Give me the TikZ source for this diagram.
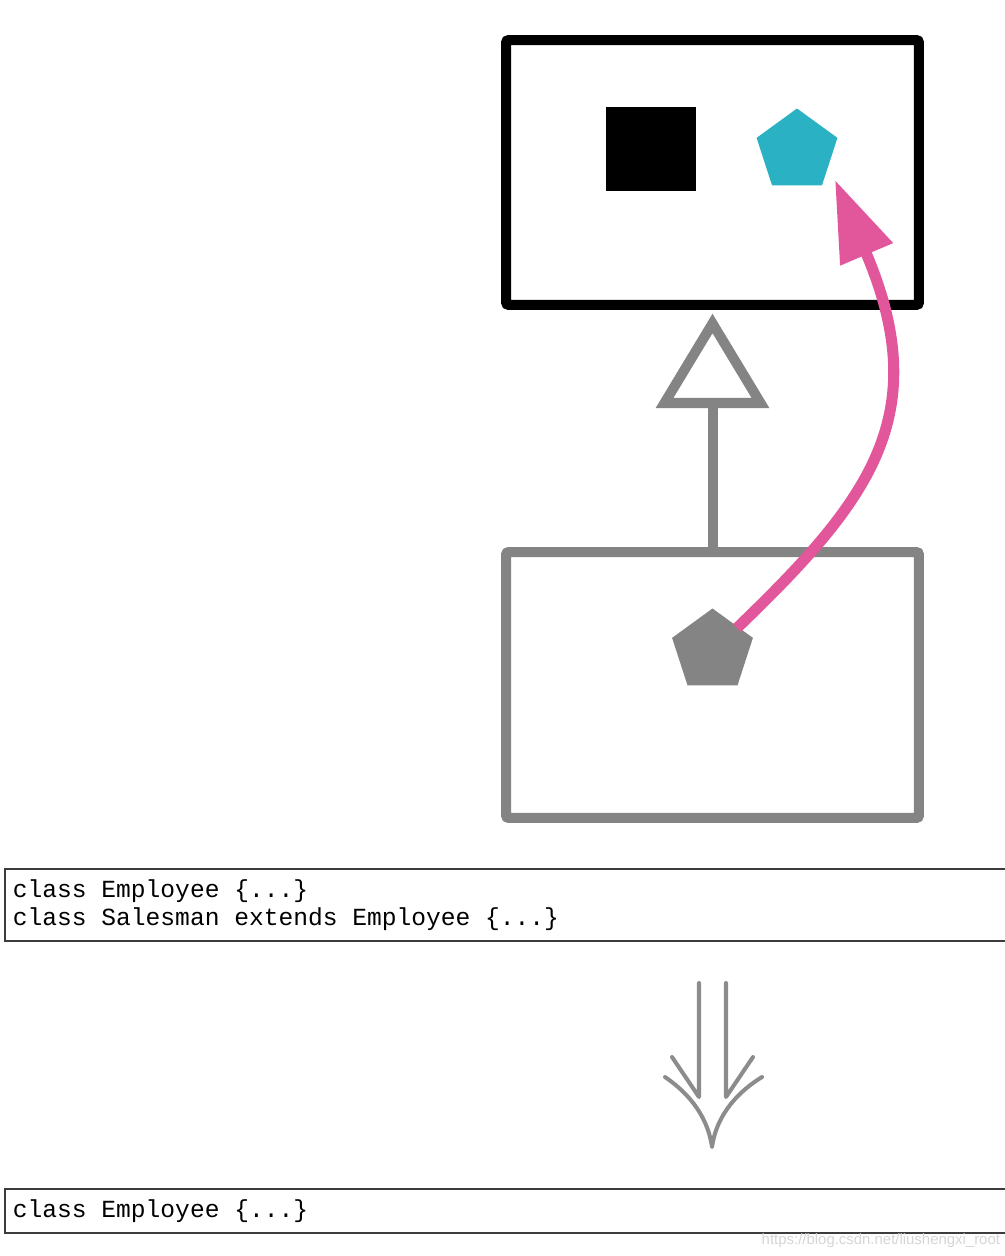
\documentclass[tikz,border=0pt]{standalone}
\usepackage{fontspec}
\usepackage{xcolor}
\usetikzlibrary{arrows.meta,positioning,shapes.geometric}
\newfontfamily\codefont{Liberation Mono}
\newfontfamily\markfont{Liberation Sans}
\newcommand\gap{\hphantom{x}}
\definecolor{Ink}{HTML}{000000}
\definecolor{Slate}{HTML}{848484}
\definecolor{Teal}{HTML}{2BB1C4}
\definecolor{Rose}{HTML}{E2579B}
\definecolor{Frame}{HTML}{3C3C3C}
\definecolor{Faint}{HTML}{8C8C8C}
\definecolor{Mark}{HTML}{D6D6D6}
\begin{document}
\begin{tikzpicture}[x=0.02cm,y=-0.02cm,every node/.style={inner sep=0pt,outer sep=0pt},cls/.style={draw,line width=5.7pt,minimum width=8.26cm,rounded corners=1.5pt},pent/.style={regular polygon,regular polygon sides=5,minimum size=1.7cm},code/.style={draw=Frame,line width=.8pt,anchor=north west,text width=19.78cm,inner xsep=4.5pt,align=left,font=\codefont\fontsize{14}{15.9}\selectfont},link/.style={draw=Rose,line width=6.3pt,-{Triangle[length=46pt,width=31pt]}},inherit/.style={draw=Slate,line width=5.7pt,line join=miter},turn/.style={draw=Faint,line width=2.3pt,line cap=round,line join=round}]
\useasboundingbox (0,0) rectangle (1004,1256);
\fill[white] (0,0) rectangle (1004,1256);
\node[cls,draw=Ink,minimum height=5.3cm] (super) at (712.5,172.5) {};
\node[fill=Ink,minimum width=1.8cm,minimum height=1.68cm] (field) at (651,149) {};
\node[pent,fill=Teal] (method) at (797,151) {};
\node[cls,draw=Slate,minimum height=5.32cm] (sub) at (712.5,685) {};
\node[pent,fill=Slate] (override) at (712.5,651) {};
\coordinate (apex) at (712.5,323.5);
\coordinate (tribase) at (712.5,403);
\draw[inherit,fill=white] (apex) -- (664.5,403) -- (760.5,403) -- cycle;
\draw[inherit] (sub.north) -- (tribase);
\coordinate (from) at (737,628);
\coordinate (to) at (835,180);
\draw[link] (from) .. controls (870,500) and (935,415) .. (to);
\node[code,minimum height=1.44cm] (both) at (5,869) {class\gap Employee\gap\{...\}\\class\gap Salesman\gap extends\gap Employee\gap\{...\}};
\draw[turn] (699,983) -- (699,1097) -- (672,1057);
\draw[turn] (726,983) -- (726,1097) -- (753,1057);
\draw[turn] (665,1077) .. controls (684,1090) and (707,1112) .. (712,1147) .. controls (717,1112) and (741,1090) .. (762,1077);
\node[code,minimum height=.88cm] (merged) at (5,1189) {class\gap Employee\gap\{...\}};
\node[anchor=east,text=Mark,font=\markfont\fontsize{8.5}{10}\selectfont] (url) at (1000,1241) {https://blog.csdn.net/liushengxi\_root};
\end{tikzpicture}
\end{document}
